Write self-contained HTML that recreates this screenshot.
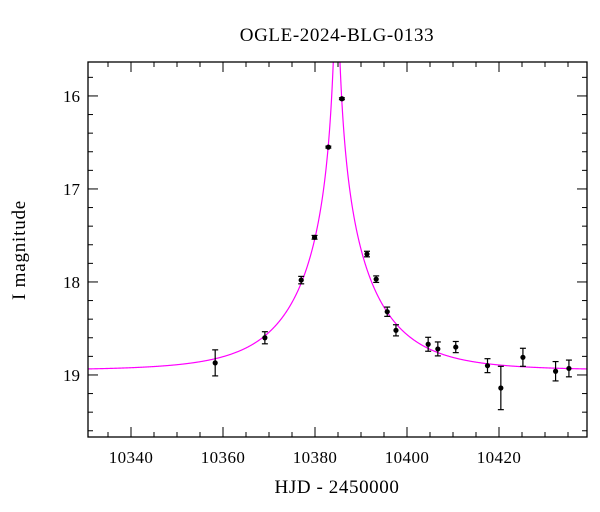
<!DOCTYPE html>
<html><head><meta charset="utf-8"><style>
html,body{margin:0;padding:0;background:#fff;}
svg{display:block;font-family:"Liberation Serif",serif;}
</style></head><body>
<svg id="chart" width="600" height="512" viewBox="0 0 600 512" xmlns="http://www.w3.org/2000/svg">
<text x="337" y="41" text-anchor="middle" font-size="19" letter-spacing="0.6">OGLE-2024-BLG-0133</text>
<text x="0" y="0" transform="translate(25,250) rotate(-90)" text-anchor="middle" font-size="19" letter-spacing="0.8">I magnitude</text>
<text x="337" y="493" text-anchor="middle" font-size="19" letter-spacing="0.6">HJD - 2450000</text>
<g id="ticks"></g>
<g id="model"></g>
<g id="points"></g>
<rect x="88" y="62" width="499" height="375" fill="none" stroke="#000" stroke-width="1.3"/>
</svg>
<script>
const times = [10358.3,10369.1,10377.0,10379.9,10382.9,10385.85,10391.3,10393.3,10395.7,10397.6,10404.6,10406.7,10410.6,10417.5,10420.4,10425.2,10432.3,10435.2];
const mags  = [18.87,18.60,17.98,17.52,16.55,16.03,17.70,17.97,18.32,18.52,18.67,18.72,18.70,18.90,19.14,18.81,18.96,18.93];
const errs  = [0.14,0.065,0.04,0.02,0.01,0.01,0.03,0.035,0.05,0.06,0.075,0.075,0.06,0.075,0.233,0.097,0.104,0.09];
const xTicks = [10340,10360,10380,10400,10420];
const yTicks = [16,17,18,19];
const modelParams = [10384.7, 17, 0.02, 18.95]; // t0, tE, u0, baseline

const L=88,R=587,T=62,B=437;
const X0=10330.65, X1=10439.13, Y0=15.635, Y1=19.667;
const sx=t=>L+(t-X0)/(X1-X0)*(R-L);
const sy=m=>T+(m-Y0)/(Y1-Y0)*(B-T);
const NS="http://www.w3.org/2000/svg";
function mk(tag,attrs,parent){const e=document.createElementNS(NS,tag);for(const k in attrs)e.setAttribute(k,attrs[k]);parent.appendChild(e);return e;}
const tg=document.getElementById('ticks');
for(let t=10335;t<X1;t+=5){
  const major=xTicks.includes(t);const len=major?10:5;const x=sx(t);
  const a=mk('line',{x1:x,x2:x,y1:B,y2:B-len,stroke:'#000'},tg);
  
  
  const b=mk('line',{x1:x,x2:x,y1:T,y2:T+len,stroke:'#000'},tg);
  
  
}
xTicks.forEach(t=>{const e=mk('text',{x:sx(t),y:463,'text-anchor':'middle','font-size':17,'letter-spacing':0.4},tg);e.textContent=String(t);
  
  });
for(let i=0;i<=20;i++){
  const m=15.8+i*0.2; if(m>Y1)break;
  const major=Math.abs(m-Math.round(m))<1e-6;const len=major?10:5;const y=sy(m);
  const a=mk('line',{x1:L,x2:L+len,y1:y,y2:y,stroke:'#000'},tg);
  
  
  const b=mk('line',{x1:R,x2:R-len,y1:y,y2:y,stroke:'#000'},tg);
  
  
}
yTicks.forEach(m=>{const e=mk('text',{x:80,y:sy(m)+6,'text-anchor':'end','font-size':17},tg);e.textContent=String(m);
  
  });
const [t0,tE,u0,base]=modelParams;
function modelMag(t){const u=Math.sqrt(u0*u0+((t-t0)/tE)**2);const A=(u*u+2)/(u*Math.sqrt(u*u+4));return base-2.5*Math.log10(A);}
let d='';const N=1500;
for(let i=0;i<=N;i++){const t=X0+(X1-X0)*i/N;let y=sy(modelMag(t));if(y<T-5)y=T-5;d+=(i?'L':'M')+sx(t).toFixed(2)+','+y.toFixed(2);}
const clip=mk('clipPath',{id:'pc'},document.getElementById('chart'));
mk('rect',{x:L,y:T,width:R-L,height:B-T},clip);
const path=mk('path',{d:d,fill:'none',stroke:'#ff00ff','stroke-width':1.2,'clip-path':'url(#pc)'},document.getElementById('model'));


const pg=document.getElementById('points');
times.forEach((t,i)=>{
  const x=sx(t),y=sy(mags[i]),y1=sy(mags[i]-errs[i]),y2=sy(mags[i]+errs[i]);
  const g=mk('g',{},pg);
  
  
  mk('line',{x1:x,x2:x,y1:y1,y2:y2,stroke:'#000','stroke-width':1.2},g);
  mk('line',{x1:x-3,x2:x+3,y1:y1,y2:y1,stroke:'#000','stroke-width':1.2},g);
  mk('line',{x1:x-3,x2:x+3,y1:y2,y2:y2,stroke:'#000','stroke-width':1.2},g);
  mk('circle',{cx:x,cy:y,r:2.6,fill:'#000'},g);
});
</script>
</body></html>
